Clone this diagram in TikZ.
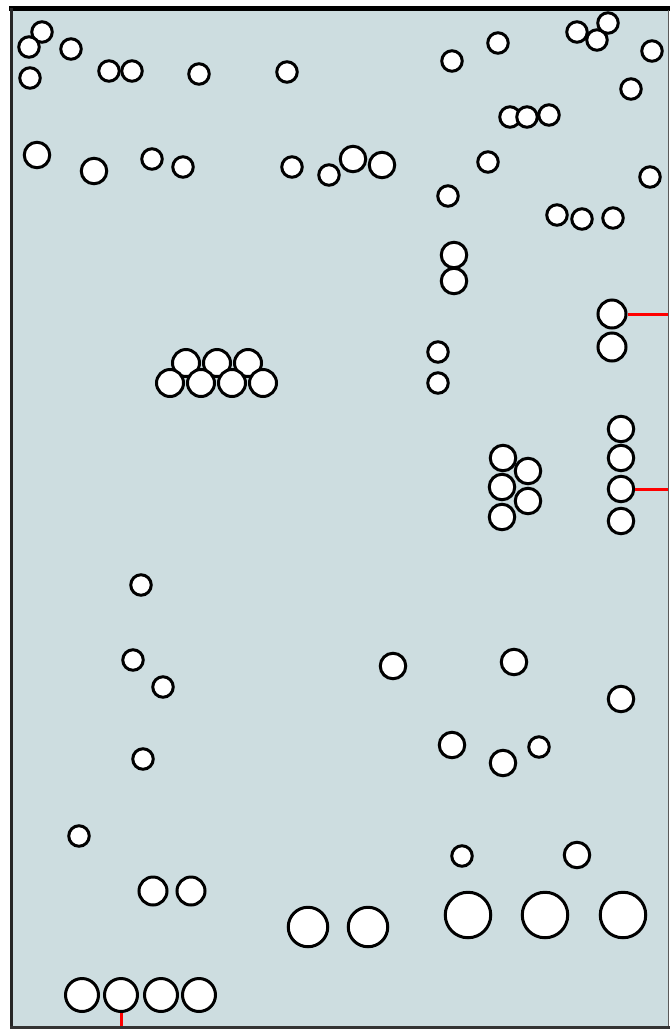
\documentclass[tikz,border=0pt]{standalone}
\usepackage{tikz}
\definecolor{boardbg}{RGB}{205,221,224}
\definecolor{edgegray}{RGB}{90,90,90}
\tikzset{
  hole/.style={circle, draw=black, fill=white, line width=3pt, inner sep=0pt},
  trace/.style={draw=red, line width=3pt},
}
\begin{document}
\begin{tikzpicture}[x=1pt,y=-1pt]
\useasboundingbox (0,0) rectangle (670,1029);
\fill[white] (0,0) rectangle (670,1029);
\fill[boardbg] (11,9) rectangle (668,1027);
% frame
\draw[black, line width=5pt] (9,8.5) -- (670,8.5);
\draw[black!85, line width=3pt] (11.5,8) -- (11.5,1029);
\draw[black!80, line width=3pt] (10,1027.5) -- (670,1027.5);
\draw[edgegray, line width=1.2pt] (668.5,10) -- (668.5,1026);
% small holes
\foreach \x/\y [count=\i] in {
 42/32, 29/47, 71/49, 30/78, 109/71, 132/71, 199/74, 287/72,
 152/159, 183/167, 292/167, 329/175,
 452/61, 498/43, 577/32, 597/40, 608/23, 652/51, 631/89,
 510/117, 527/117, 549/115, 488/162, 650/177, 448/196,
 557/215, 582/219, 613/218, 438/352, 438/383,
 141/585, 133/660, 163/687, 143/759, 79/836, 539/747, 462/856}
  \node[hole, minimum size=20.5pt] (s\i) at (\x,\y) {};
% medium holes
\foreach \x/\y [count=\i] in {
 37/155, 94/171, 353/159, 382/165,
 454/255, 454/281,
 621/429, 621/458, 621/521,
 503/458, 502/487, 502/517, 528/471, 528/501,
 393/666, 514/662, 621/699, 452/745, 503/763, 577/855}
  \node[hole, minimum size=25.5pt] (m\i) at (\x,\y) {};
% row of overlapping holes
\foreach \x [count=\i] in {186, 217, 248}
  \node[hole, minimum size=27pt] (r\i) at (\x,363) {};
\foreach \x [count=\i] in {170, 201, 232, 263}
  \node[hole, minimum size=27pt] (q\i) at (\x,383) {};
\node[hole, minimum size=28pt] (t1) at (612,314) {};
\node[hole, minimum size=28pt] (p1) at (612,347) {};
\node[hole, minimum size=25.5pt] (t2) at (621,489) {};
% large holes
\foreach \x/\y [count=\i] in {153/891, 191/891}
  \node[hole, minimum size=28pt] (l\i) at (\x,\y) {};
\foreach \x/\y [count=\i] in {82/995, 161/995, 199/995}
  \node[hole, minimum size=33pt] (b\i) at (\x,\y) {};
\node[hole, minimum size=33pt] (t3) at (121,995) {};
\foreach \x/\y [count=\i] in {308/927, 368/927}
  \node[hole, minimum size=39.5pt] (g\i) at (\x,\y) {};
\foreach \x/\y [count=\i] in {468/915, 545/915, 623/915}
  \node[hole, minimum size=45.5pt] (h\i) at (\x,\y) {};
% traces
\coordinate (e1) at (668,314);
\coordinate (e2) at (668,489);
\coordinate (e3) at (121,1026);
\draw[trace] (t1.east) -- (e1);
\draw[trace] (t2.east) -- (e2);
\draw[trace] (t3.south) -- (e3);
\end{tikzpicture}
\end{document}
